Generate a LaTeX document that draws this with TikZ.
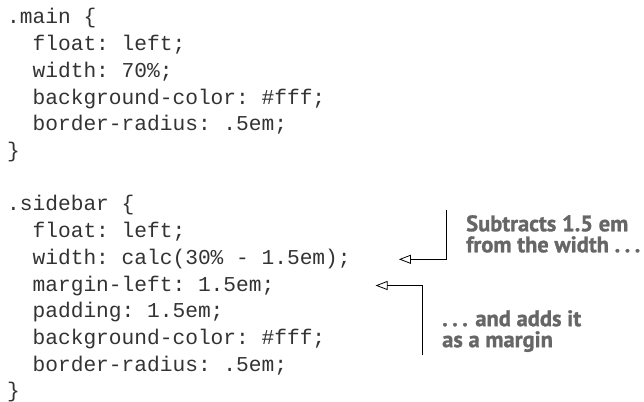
\documentclass[tikz,border=0pt]{standalone}
\usepackage{fontspec}
\setmonofont{Liberation Mono}
\newfontfamily\notefont{PT Sans Bold}[FakeBold=1.2]
\usetikzlibrary{arrows.meta,positioning}
\definecolor{codegray}{HTML}{333333}
\definecolor{notegray}{HTML}{666666}
\tikzset{
  codeline/.style={anchor=base west,inner sep=0pt,text=codegray,
    font=\fontsize{21.2}{26.7}\selectfont\ttfamily},
  note/.style={anchor=north west,inner sep=0pt,align=left,text=notegray,
    font=\fontsize{22.5}{21}\selectfont\notefont},
  callout/.style={draw=black,line width=0.8pt,
    -{Triangle[open,length=12pt,width=9pt]}},
}
\newcommand{\ind}{\hphantom{..}}
\newcommand{\ellip}{.\hspace{0.2em}.\hspace{0.2em}.}
\begin{document}
\begin{tikzpicture}
\useasboundingbox (0,0) rectangle (644pt,-401pt);

% the .main rule
\foreach \txt [count=\i] in {.main \{, \ind float: left;, \ind width: 70\%;,
    \ind background-color: \#fff;, \ind border-radius: .5em;, \}}
  \node[codeline] (m\i) at (7pt,{-24pt-(\i-1)*26.7pt}) {\txt};

% the .sidebar rule
\foreach \txt [count=\i] in {.sidebar \{, \ind float: left;,
    \ind width: calc(30\% - 1.5em);, \ind margin-left: 1.5em;,
    \ind padding: 1.5em;, \ind background-color: \#fff;,
    \ind border-radius: .5em;, \}}
  \node[codeline] (s\i) at (7pt,{-24pt-(\i+6)*26.7pt}) {\txt};

\coordinate (widthtip) at ([xshift=48pt,yshift=5pt]s3.base east);
\coordinate (margintip) at ([xshift=101pt,yshift=5.5pt]s4.base east);

\node[note] (subnote) at (466pt,-215pt) {Subtracts 1.5 em\\from the width \ellip};
\node[note] (addnote) at (442pt,-310pt) {\ellip{} and adds it\\as a margin};

\draw[callout] ([xshift=-20pt,yshift=5pt]subnote.north west) |- (widthtip);
\draw[callout] ([xshift=-20pt,yshift=-3pt]addnote.south west) |- (margintip);
\end{tikzpicture}
\end{document}
